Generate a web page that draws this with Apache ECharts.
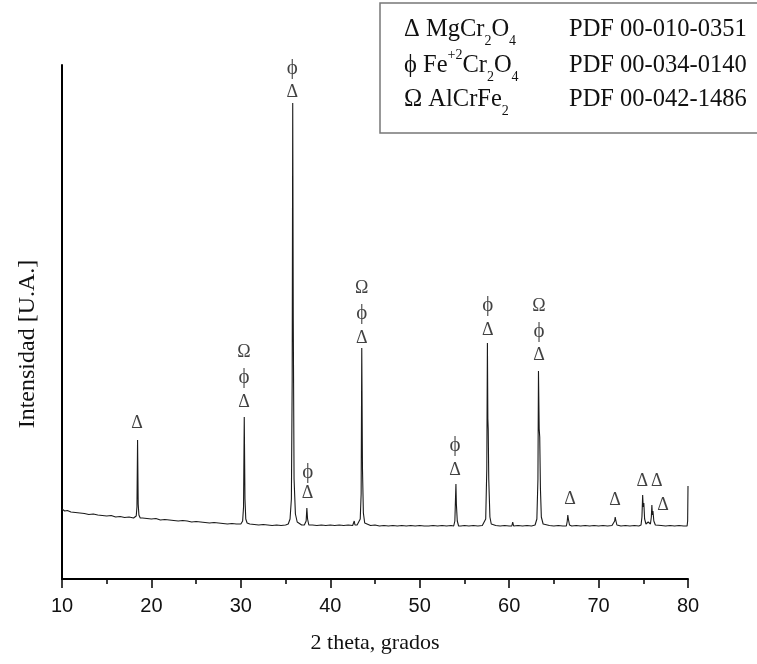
<!DOCTYPE html>
<html>
<head>
<meta charset="utf-8">
<script src="https://cdn.jsdelivr.net/npm/echarts@6/dist/echarts.min.js"></script>
<style>html,body{margin:0;padding:0;background:#fff;}#c{width:757px;height:664px;}</style>
</head>
<body>
<div id="c"></div>
<script>
// XRD pattern: [2theta (deg), intensity (arbitrary units)]
const pattern = [
  [10.0,70],[10.3,68],[10.6,68.5],[11.0,67],[11.5,66.5],[12.0,66],[12.5,65.5],[13.0,64.5],[13.5,65],[14.0,64],
  [14.5,63.5],[15.0,63],[15.5,63.5],[16.0,62],[16.5,62.5],[17.0,61.5],[17.5,62],[18.0,61],
  [18.15,61],[18.3,63],[18.38,72],[18.45,139],[18.52,75],[18.6,64],[18.75,61],
  [19.0,61],[19.5,60.5],[20.0,60],[20.5,60.5],[21.0,59],[21.5,59.5],[22.0,59],[22.5,58.5],[23.0,58],[23.5,58.5],
  [24.0,58],[24.5,57],[25.0,57.5],[25.5,57],[26.0,56.5],[26.5,56],[27.0,56.5],[27.5,56],[28.0,55.5],[28.5,55],
  [29.0,55.5],[29.5,55],[30.0,55],
  [30.05,55],[30.2,58],[30.3,72],[30.38,162],[30.46,80],[30.55,60],[30.7,56],
  [31.0,55],[31.5,54.5],[32.0,54],[32.5,54.5],[33.0,54],[33.5,53.5],[34.0,54],[34.5,53.5],[35.0,54],
  [35.3,55],[35.5,60],[35.65,80],[35.74,200],[35.8,476],[35.86,260],[35.95,100],[36.1,65],[36.3,57],[36.5,55],
  [36.8,54],[37.1,54],[37.2,54],[37.3,58],[37.38,71],[37.46,60],[37.6,54],
  [38.0,54],[38.5,53.5],[39.0,54],[39.5,53.5],[40.0,54],[40.5,53.5],[41.0,54],[41.5,53.5],[42.0,54],[42.5,53.5],
  [42.6,54],[42.68,58],[42.76,54],
  [43.0,54],[43.2,55],[43.35,60],[43.45,85],[43.52,231],[43.6,110],[43.7,66],[43.85,56],[44.0,54],
  [44.5,53.5],[45.0,54],[45.5,53],[46.0,53.5],[46.5,53],[47.0,53.5],[47.5,53],[48.0,53.5],[48.5,53],[49.0,53.5],
  [49.5,53],[50.0,53.5],[50.5,53],[51.0,53],[51.5,53.5],[52.0,53],[52.5,53.5],[53.0,53],[53.5,53.5],
  [53.8,53],[53.93,58],[54.0,80],[54.05,95],[54.1,75],[54.2,58],[54.35,53],
  [54.6,53],[55.0,53.5],[55.5,53],[56.0,53.5],[56.5,53],[57.0,53.5],
  [57.2,54],[57.38,60],[57.5,110],[57.57,236],[57.62,160],[57.66,150],[57.72,100],[57.85,62],[58.0,55],[58.2,53],
  [58.5,53.5],[59.0,53],[59.5,53.5],[60.0,53],
  [60.3,53],[60.4,57],[60.5,53],
  [61.0,53.5],[61.5,53],[62.0,53.5],[62.5,53],
  [62.9,54],[63.1,60],[63.22,100],[63.28,208],[63.36,150],[63.42,142],[63.5,90],[63.6,62],[63.8,55],[64.0,53],
  [64.5,53.5],[65.0,53],[65.5,53.5],[66.0,53],
  [66.4,53],[66.5,58],[66.56,64],[66.62,60],[66.75,54],
  [67.0,53],[67.5,53.5],[68.0,53],[68.5,53.5],[69.0,53],[69.5,53.5],[70.0,53],[70.5,53.5],[71.0,53],[71.5,53.5],
  [71.7,53],[71.8,58],[71.86,62],[71.92,59],[72.05,54],
  [72.5,53],[73.0,53.5],[73.5,53],[74.0,53.5],[74.5,53],
  [74.75,54],[74.85,62],[74.93,84],[74.99,72],[75.06,76],[75.15,60],[75.3,55],[75.55,57],
  [75.8,55],[75.9,62],[75.96,74],[76.02,64],[76.08,68],[76.18,58],[76.35,54],
  [76.5,53],[77.0,53.5],[77.5,53],[78.0,53.5],[78.5,53],[79.0,53.5],[79.5,53],[79.9,53],[79.96,58],[80.0,93]
];

// Phase marks above the reflections: position (2theta, intensity) and symbol
const markX   = [18.39, 30.35,30.35,30.35, 35.75,35.75, 37.47,37.47, 43.51,43.51,43.51, 53.95,53.95, 57.6,57.6, 63.34,63.34,63.34, 66.8, 71.84, 74.89, 76.5, 77.2, 80.11];
const markY   = [156,   227,202,177,       511,487,     107,86,       291,266,241,       134,109,     274,249,    273,248,224,       80,   79,    98,    98,   74,   111];
const markSym = ['Δ',  'Ω','ϕ','Δ',       'ϕ','Δ',     'ϕ','Δ',      'Ω','ϕ','Δ',       'ϕ','Δ',     'ϕ','Δ',    'Ω','ϕ','Δ',       'Δ',  'Δ',   'Δ',   'Δ',  'Δ',  'Δ'];

// Legend rows: text fragments, kind n = normal, s = subscript, p = superscript
const legendPhases = [
  [['Δ MgCr','n'], ['2','s'], ['O','n'], ['4','s']],
  [['ϕ Fe','n'], ['+2','p'], ['Cr','n'], ['2','s'], ['O','n'], ['4','s']],
  [['Ω AlCrFe','n'], ['2','s']]
];
const legendPdf = ['PDF 00-010-0351', 'PDF 00-034-0140', 'PDF 00-042-1486'];

const xTicks = [10, 20, 30, 40, 50, 60, 70, 80];

const serif = "'Liberation Serif','Times New Roman',serif";
const sans = "'Liberation Sans',Arial,sans-serif";
const fragFont = {n: 24.5, s: 14, p: 14};
const fragDy = {n: 0, s: 11.5, p: -10};
const rowY = [30, 65.5, 99.5];

const mctx = document.createElement('canvas').getContext('2d');
function textWidth(t, size) {
  mctx.font = size + "px 'Liberation Serif'";
  return mctx.measureText(t).width;
}

const graphics = [{
  type: 'rect', shape: {x: 380, y: 3, width: 400, height: 130},
  style: {fill: '#fff', stroke: '#777', lineWidth: 1.5}, z: 10
}];
legendPhases.forEach((frags, i) => {
  let x = 404;
  frags.forEach(([t, k]) => {
    graphics.push({type: 'text', x: x, y: rowY[i] + fragDy[k], z: 11,
      style: {text: t, fontFamily: serif, fontSize: fragFont[k], fill: '#111', verticalAlign: 'middle', align: 'left'}});
    x += textWidth(t, fragFont[k]);
  });
  graphics.push({type: 'text', x: 569, y: rowY[i], z: 11,
    style: {text: legendPdf[i], fontFamily: serif, fontSize: 24.5, fill: '#111', verticalAlign: 'middle', align: 'left'}});
});

const chart = echarts.init(document.getElementById('c'), null, {renderer: 'canvas'});
chart.setOption({
  animation: false,
  backgroundColor: '#fff',
  grid: {left: 62, right: 69, top: 65, bottom: 85},
  xAxis: {
    type: 'value', min: 10, max: 80, interval: 10,
    name: '2 theta, grados', nameLocation: 'middle', nameGap: 53,
    nameTextStyle: {fontFamily: serif, fontSize: 22, color: '#111'},
    axisLine: {show: true, onZero: false, lineStyle: {color: '#000', width: 2}},
    axisTick: {show: true, length: 9, lineStyle: {color: '#000', width: 1.5}},
    minorTick: {show: true, splitNumber: 2, length: 5, lineStyle: {color: '#000', width: 1.5}},
    axisLabel: {fontFamily: sans, fontSize: 20, color: '#111', margin: 17,
      formatter: v => xTicks.includes(v) ? String(v) : ''},
    splitLine: {show: false}
  },
  yAxis: {
    type: 'value', min: 0, max: 514,
    name: 'Intensidad [U.A.]', nameLocation: 'middle', nameGap: 22,
    nameTextStyle: {fontFamily: serif, fontSize: 24, color: '#111', padding: [0, 44, 0, 0]},
    axisLine: {show: true, onZero: false, lineStyle: {color: '#000', width: 2}},
    axisTick: {show: false}, axisLabel: {show: false}, splitLine: {show: false}
  },
  series: [{
    type: 'line', data: pattern, showSymbol: false, symbol: 'none',
    lineStyle: {color: '#1a1a1a', width: 1.1}, z: 2
  }, {
    type: 'scatter', symbolSize: 0, z: 3,
    data: markX.map((x, i) => ({
      value: [x, markY[i]], name: markSym[i],
      label: markSym[i] === 'ϕ' ? {fontSize: 21} : {}
    })),
    label: {show: true, position: 'inside', formatter: p => p.name,
      fontFamily: serif, fontSize: 18, color: '#111'}
  }],
  graphic: graphics
});
</script>
</body>
</html>
